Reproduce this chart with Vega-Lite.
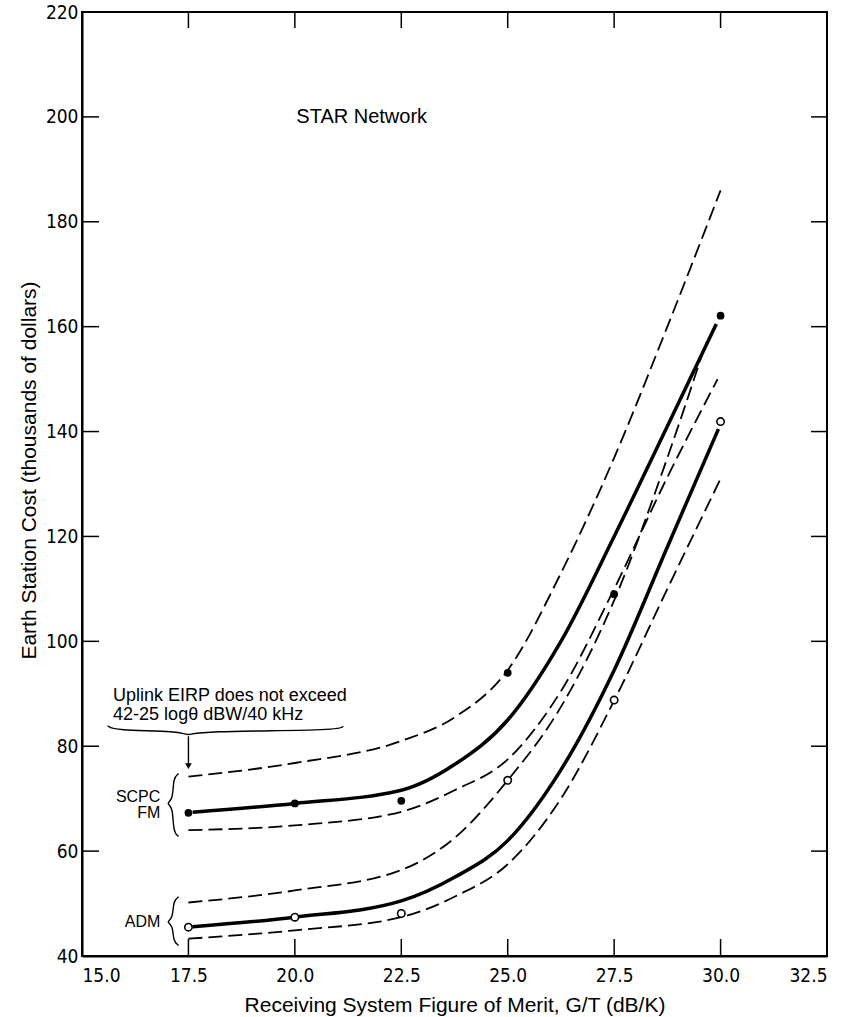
{
  "$schema": "https://vega.github.io/schema/vega-lite/v6.json",
  "width": 745,
  "height": 944,
  "autosize": {"type": "none"},
  "padding": {"left": 82, "top": 12, "right": 33, "bottom": 61},
  "background": "white",
  "config": {
    "view": {"stroke": "black", "strokeWidth": 2},
    "axis": {
      "grid": false,
      "domainColor": "black",
      "domainWidth": 2,
      "labelFont": "Liberation Sans Narrow, DejaVu Sans Condensed, Liberation Sans, sans-serif",
      "labelFontSize": 19,
      "labelColor": "black",
      "titleFont": "Liberation Sans, Arial, sans-serif",
      "titleFontSize": 21,
      "titleFontWeight": "normal",
      "titleColor": "black"
    }
  },
  "datasets": {
    "curves": [
      {"system": "SCPC FM", "curve": "central", "gt": 17.6, "cost": 67.4},
      {"system": "SCPC FM", "curve": "central", "gt": 20.0, "cost": 69.1},
      {"system": "SCPC FM", "curve": "central", "gt": 22.5, "cost": 71.6},
      {"system": "SCPC FM", "curve": "central", "gt": 23.75, "cost": 76.5},
      {"system": "SCPC FM", "curve": "central", "gt": 25.0, "cost": 85.0},
      {"system": "SCPC FM", "curve": "central", "gt": 26.25, "cost": 100.0},
      {"system": "SCPC FM", "curve": "central", "gt": 27.5, "cost": 120.0},
      {"system": "SCPC FM", "curve": "central", "gt": 28.75, "cost": 141.0},
      {"system": "SCPC FM", "curve": "central", "gt": 29.9, "cost": 160.5},
      {"system": "SCPC FM", "curve": "upper", "gt": 17.5, "cost": 74.2},
      {"system": "SCPC FM", "curve": "upper", "gt": 20.0, "cost": 76.8},
      {"system": "SCPC FM", "curve": "upper", "gt": 22.5, "cost": 81.0},
      {"system": "SCPC FM", "curve": "upper", "gt": 23.75, "cost": 85.5},
      {"system": "SCPC FM", "curve": "upper", "gt": 25.0, "cost": 94.5},
      {"system": "SCPC FM", "curve": "upper", "gt": 26.25, "cost": 113.0},
      {"system": "SCPC FM", "curve": "upper", "gt": 27.5, "cost": 135.0},
      {"system": "SCPC FM", "curve": "upper", "gt": 28.75, "cost": 160.0},
      {"system": "SCPC FM", "curve": "upper", "gt": 30.0, "cost": 186.0},
      {"system": "SCPC FM", "curve": "lower", "gt": 17.5, "cost": 64.0},
      {"system": "SCPC FM", "curve": "lower", "gt": 20.0, "cost": 64.9},
      {"system": "SCPC FM", "curve": "lower", "gt": 22.5, "cost": 67.5},
      {"system": "SCPC FM", "curve": "lower", "gt": 23.75, "cost": 71.6},
      {"system": "SCPC FM", "curve": "lower", "gt": 25.0, "cost": 77.5},
      {"system": "SCPC FM", "curve": "lower", "gt": 26.25, "cost": 90.5},
      {"system": "SCPC FM", "curve": "lower", "gt": 27.5, "cost": 110.0},
      {"system": "SCPC FM", "curve": "lower", "gt": 28.75, "cost": 131.3},
      {"system": "SCPC FM", "curve": "lower", "gt": 29.93, "cost": 150.0},
      {"system": "ADM", "curve": "central", "gt": 17.6, "cost": 45.6},
      {"system": "ADM", "curve": "central", "gt": 20.0, "cost": 47.4},
      {"system": "ADM", "curve": "central", "gt": 22.5, "cost": 50.5},
      {"system": "ADM", "curve": "central", "gt": 23.75, "cost": 55.0},
      {"system": "ADM", "curve": "central", "gt": 25.0, "cost": 62.0},
      {"system": "ADM", "curve": "central", "gt": 26.25, "cost": 75.5},
      {"system": "ADM", "curve": "central", "gt": 27.5, "cost": 94.5},
      {"system": "ADM", "curve": "central", "gt": 28.75, "cost": 118.0},
      {"system": "ADM", "curve": "central", "gt": 29.95, "cost": 140.5},
      {"system": "ADM", "curve": "upper", "gt": 17.5, "cost": 50.2},
      {"system": "ADM", "curve": "upper", "gt": 20.0, "cost": 52.5},
      {"system": "ADM", "curve": "upper", "gt": 22.5, "cost": 56.4},
      {"system": "ADM", "curve": "upper", "gt": 23.75, "cost": 62.5},
      {"system": "ADM", "curve": "upper", "gt": 25.0, "cost": 73.5},
      {"system": "ADM", "curve": "upper", "gt": 26.25, "cost": 87.5},
      {"system": "ADM", "curve": "upper", "gt": 27.5, "cost": 107.8},
      {"system": "ADM", "curve": "upper", "gt": 28.75, "cost": 135.0},
      {"system": "ADM", "curve": "upper", "gt": 29.66, "cost": 157.0},
      {"system": "ADM", "curve": "lower", "gt": 17.5, "cost": 43.3},
      {"system": "ADM", "curve": "lower", "gt": 20.0, "cost": 44.9},
      {"system": "ADM", "curve": "lower", "gt": 22.5, "cost": 47.4},
      {"system": "ADM", "curve": "lower", "gt": 23.75, "cost": 51.3},
      {"system": "ADM", "curve": "lower", "gt": 25.0, "cost": 57.5},
      {"system": "ADM", "curve": "lower", "gt": 26.25, "cost": 70.0},
      {"system": "ADM", "curve": "lower", "gt": 27.5, "cost": 88.7},
      {"system": "ADM", "curve": "lower", "gt": 28.75, "cost": 110.0},
      {"system": "ADM", "curve": "lower", "gt": 30.0, "cost": 131.0}
    ],
    "points": [
      {"system": "SCPC FM", "gt": 17.5, "cost": 67.3},
      {"system": "SCPC FM", "gt": 20.0, "cost": 69.1},
      {"system": "SCPC FM", "gt": 22.5, "cost": 69.6},
      {"system": "SCPC FM", "gt": 25.0, "cost": 94.0},
      {"system": "SCPC FM", "gt": 27.5, "cost": 109.0},
      {"system": "SCPC FM", "gt": 30.0, "cost": 162.1},
      {"system": "ADM", "gt": 17.5, "cost": 45.5},
      {"system": "ADM", "gt": 20.0, "cost": 47.4},
      {"system": "ADM", "gt": 22.5, "cost": 48.1},
      {"system": "ADM", "gt": 25.0, "cost": 73.5},
      {"system": "ADM", "gt": 27.5, "cost": 88.8},
      {"system": "ADM", "gt": 30.0, "cost": 141.9}
    ],
    "braces": [
      {"brace": "uplink", "seq": 1, "gt": 15.6, "cost": 83.9},
      {"brace": "uplink", "seq": 2, "gt": 15.75, "cost": 83.0},
      {"brace": "uplink", "seq": 3, "gt": 17.3, "cost": 82.9},
      {"brace": "uplink", "seq": 4, "gt": 17.5, "cost": 81.9},
      {"brace": "uplink", "seq": 5, "gt": 17.7, "cost": 82.9},
      {"brace": "uplink", "seq": 6, "gt": 21.0, "cost": 83.0},
      {"brace": "uplink", "seq": 7, "gt": 21.14, "cost": 83.8},
      {"brace": "scpc", "seq": 1, "gt": 17.27, "cost": 74.8},
      {"brace": "scpc", "seq": 2, "gt": 17.14, "cost": 74.0},
      {"brace": "scpc", "seq": 3, "gt": 17.14, "cost": 69.7},
      {"brace": "scpc", "seq": 4, "gt": 16.97, "cost": 69.1},
      {"brace": "scpc", "seq": 5, "gt": 17.14, "cost": 68.5},
      {"brace": "scpc", "seq": 6, "gt": 17.14, "cost": 63.6},
      {"brace": "scpc", "seq": 7, "gt": 17.27, "cost": 62.8},
      {"brace": "adm", "seq": 1, "gt": 17.27, "cost": 51.3},
      {"brace": "adm", "seq": 2, "gt": 17.14, "cost": 50.5},
      {"brace": "adm", "seq": 3, "gt": 17.14, "cost": 47.1},
      {"brace": "adm", "seq": 4, "gt": 16.97, "cost": 46.5},
      {"brace": "adm", "seq": 5, "gt": 17.14, "cost": 45.9},
      {"brace": "adm", "seq": 6, "gt": 17.14, "cost": 42.8},
      {"brace": "adm", "seq": 7, "gt": 17.27, "cost": 42.0}
    ],
    "arrow": [
      {"gt": 17.5, "from": 81.9, "to": 76.2}
    ],
    "xticks": [
      {"gt": 17.5}, {"gt": 20.0}, {"gt": 22.5}, {"gt": 25.0}, {"gt": 27.5}, {"gt": 30.0}
    ],
    "yticks": [
      {"cost": 60}, {"cost": 80}, {"cost": 100}, {"cost": 120}, {"cost": 140}, {"cost": 160}, {"cost": 180}, {"cost": 200}
    ],
    "notes": [
      {"kind": "heading", "text": "STAR Network", "gt": 21.57, "cost": 200.0},
      {"kind": "condition", "text": "Uplink EIRP does not exceed", "gt": 15.73, "cost": 89.6},
      {"kind": "condition", "text": "42-25 logθ dBW/40 kHz", "gt": 15.73, "cost": 86.0},
      {"kind": "system", "text": "SCPC", "gt": 16.84, "cost": 70.3},
      {"kind": "system", "text": "FM", "gt": 16.84, "cost": 67.2},
      {"kind": "system", "text": "ADM", "gt": 16.84, "cost": 46.5}
    ]
  },
  "layer": [
    {
      "data": {"name": "curves"},
      "transform": [{"filter": "datum.curve !== 'central'"}],
      "mark": {"type": "line", "interpolate": "monotone", "color": "black", "strokeWidth": 1.8, "strokeDash": [14, 6]},
      "encoding": {
        "x": {
          "field": "gt", "type": "quantitative",
          "scale": {"domain": [15, 32.5], "nice": false, "zero": false},
          "axis": {"orient": "bottom", "values": [15, 17.5, 20, 22.5, 25, 27.5, 30, 32.5], "format": ".1f", "ticks": false, "tickSize": 0, "labelPadding": 10, "title": "Receiving System Figure of Merit, G/T (dB/K)", "titlePadding": 9}
        },
        "y": {
          "field": "cost", "type": "quantitative",
          "scale": {"domain": [40, 220], "nice": false, "zero": false},
          "axis": {"orient": "left", "values": [40, 60, 80, 100, 120, 140, 160, 180, 200, 220], "format": "d", "ticks": false, "tickSize": 0, "labelPadding": 4, "title": "Earth Station Cost (thousands of dollars)", "titlePadding": 6, "titleY": 458}
        },
        "detail": [{"field": "system"}, {"field": "curve"}]
      }
    },
    {
      "data": {"name": "curves"},
      "transform": [{"filter": "datum.curve === 'central'"}],
      "mark": {"type": "line", "interpolate": "monotone", "color": "black", "strokeWidth": 3.5},
      "encoding": {
        "x": {"field": "gt", "type": "quantitative"},
        "y": {"field": "cost", "type": "quantitative"},
        "detail": {"field": "system"}
      }
    },
    {
      "data": {"name": "points"},
      "transform": [{"filter": "datum.system === 'SCPC FM'"}],
      "mark": {"type": "point", "shape": "circle", "filled": true, "color": "black", "size": 60, "opacity": 1},
      "encoding": {
        "x": {"field": "gt", "type": "quantitative"},
        "y": {"field": "cost", "type": "quantitative"}
      }
    },
    {
      "data": {"name": "points"},
      "transform": [{"filter": "datum.system === 'ADM'"}],
      "mark": {"type": "point", "shape": "circle", "filled": false, "fill": "white", "fillOpacity": 1, "stroke": "black", "strokeWidth": 1.6, "size": 55, "opacity": 1},
      "encoding": {
        "x": {"field": "gt", "type": "quantitative"},
        "y": {"field": "cost", "type": "quantitative"}
      }
    },
    {
      "data": {"name": "xticks"},
      "mark": {"type": "tick", "orient": "vertical", "color": "black", "size": 17, "thickness": 1.5, "yOffset": -8.5, "opacity": 1},
      "encoding": {
        "x": {"field": "gt", "type": "quantitative"},
        "y": {"datum": 40, "type": "quantitative"}
      }
    },
    {
      "data": {"name": "xticks"},
      "mark": {"type": "tick", "orient": "vertical", "color": "black", "size": 16, "thickness": 1.5, "yOffset": 8, "opacity": 1},
      "encoding": {
        "x": {"field": "gt", "type": "quantitative"},
        "y": {"datum": 220, "type": "quantitative"}
      }
    },
    {
      "data": {"name": "yticks"},
      "mark": {"type": "tick", "orient": "horizontal", "color": "black", "size": 17, "thickness": 1.5, "xOffset": 8.5, "opacity": 1},
      "encoding": {
        "y": {"field": "cost", "type": "quantitative"},
        "x": {"datum": 15, "type": "quantitative"}
      }
    },
    {
      "data": {"name": "yticks"},
      "mark": {"type": "tick", "orient": "horizontal", "color": "black", "size": 16, "thickness": 1.5, "xOffset": -8, "opacity": 1},
      "encoding": {
        "y": {"field": "cost", "type": "quantitative"},
        "x": {"datum": 32.5, "type": "quantitative"}
      }
    },
    {
      "data": {"name": "braces"},
      "mark": {"type": "line", "interpolate": "basis", "color": "black", "strokeWidth": 1.4},
      "encoding": {
        "x": {"field": "gt", "type": "quantitative"},
        "y": {"field": "cost", "type": "quantitative"},
        "detail": {"field": "brace"},
        "order": {"field": "seq"}
      }
    },
    {
      "data": {"name": "arrow"},
      "mark": {"type": "rule", "color": "black", "strokeWidth": 1.4},
      "encoding": {
        "x": {"field": "gt", "type": "quantitative"},
        "y": {"field": "from", "type": "quantitative"},
        "y2": {"field": "to"}
      }
    },
    {
      "data": {"name": "arrow"},
      "mark": {"type": "point", "shape": "triangle-down", "filled": true, "color": "black", "size": 45, "opacity": 1},
      "encoding": {
        "x": {"field": "gt", "type": "quantitative"},
        "y": {"field": "to", "type": "quantitative"}
      }
    },
    {
      "data": {"name": "notes"},
      "transform": [{"filter": "datum.kind === 'heading'"}],
      "mark": {"type": "text", "align": "center", "baseline": "middle", "font": "Liberation Sans, Arial, sans-serif", "fontSize": 20, "color": "black"},
      "encoding": {
        "x": {"field": "gt", "type": "quantitative"},
        "y": {"field": "cost", "type": "quantitative"},
        "text": {"field": "text"}
      }
    },
    {
      "data": {"name": "notes"},
      "transform": [{"filter": "datum.kind === 'condition'"}],
      "mark": {"type": "text", "align": "left", "baseline": "middle", "font": "Liberation Sans, Arial, sans-serif", "fontSize": 18, "color": "black"},
      "encoding": {
        "x": {"field": "gt", "type": "quantitative"},
        "y": {"field": "cost", "type": "quantitative"},
        "text": {"field": "text"}
      }
    },
    {
      "data": {"name": "notes"},
      "transform": [{"filter": "datum.kind === 'system'"}],
      "mark": {"type": "text", "align": "right", "baseline": "middle", "font": "Liberation Sans, Arial, sans-serif", "fontSize": 16, "color": "black"},
      "encoding": {
        "x": {"field": "gt", "type": "quantitative"},
        "y": {"field": "cost", "type": "quantitative"},
        "text": {"field": "text"}
      }
    }
  ]
}
